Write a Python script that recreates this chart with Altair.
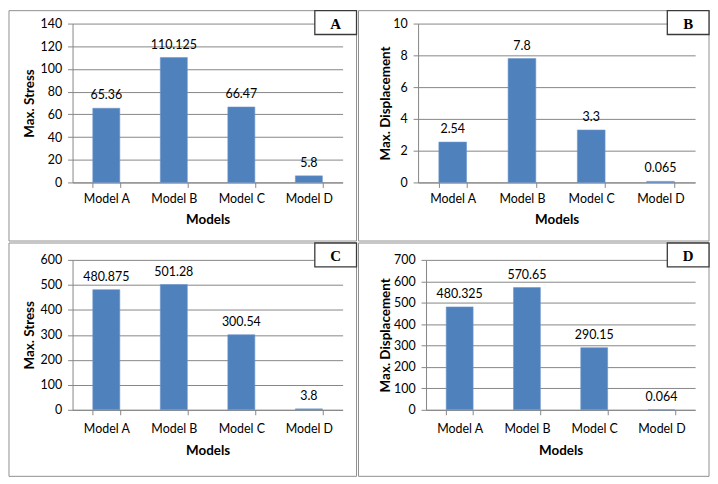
import altair as alt
import pandas as pd

models = ["Model A", "Model B", "Model C", "Model D"]
stress_a = [65.36, 110.125, 66.47, 5.8]
disp_b = [2.54, 7.8, 3.3, 0.065]
stress_c = [480.875, 501.28, 300.54, 3.8]
disp_d = [480.325, 570.65, 290.15, 0.064]
letters = ["A", "B", "C", "D"]
y_titles = ["Max. Stress", "Max. Displacement", "Max. Stress", "Max. Displacement"]
x_title = "Models"
y_max = [140, 10, 600, 700]
y_step = [20, 2, 100, 100]

FONT = "Lato"
FS = 12.5
TFS = 13.5
GRID = "#868686"
BORDER = "#8f8f8f"
BAR = "#4F81BD"


def panel(values, letter, ytitle, ymax, ystep, w, h, left, right, top, bottom,
          title_x, lab_c, title_c):
    df = pd.DataFrame({"Model": models, "Value": values,
                       "Label": [str(v) for v in values]})
    ticks = [int(t) for t in range(0, ymax + 1, ystep)]
    x = alt.X("Model:N", sort=models, title=x_title,
              scale=alt.Scale(paddingInner=0.6, paddingOuter=0.3),
              axis=alt.Axis(labelAngle=0, tickBand="extent", tickSize=5,
                            tickColor=GRID, domainColor=GRID, grid=False,
                            labelFont=FONT, labelFontSize=FS, labelColor="#000",
                            labelBaseline="middle", labelPadding=lab_c - 5,
                            labelOverlap=False,
                            titleFont=FONT, titleFontSize=TFS, titleFontWeight="bold",
                            titleColor="#000", titleBaseline="middle",
                            titleY=title_c, titleX=w / 2, titleAlign="center"))
    y = alt.Y("Value:Q", title=ytitle,
              scale=alt.Scale(domain=[0, ymax], nice=False, zero=True),
              axis=alt.Axis(values=ticks, tickCount=len(ticks), tickSize=5,
                            tickColor=GRID, domainColor=GRID, grid=True,
                            gridColor=GRID, gridWidth=1, gridOpacity=1,
                            labelFont=FONT, labelFontSize=FS, labelColor="#000",
                            labelPadding=6, labelOverlap=False, labelFlush=False,
                            titleFont=FONT, titleFontSize=TFS, titleFontWeight="bold",
                            titleColor="#000", titleBaseline="middle",
                            titleAlign="center", titleX=title_x, titleY=h / 2,
                            titleAngle=270))
    base = alt.Chart(df).encode(x=x, y=y)
    bars = base.mark_bar(color=BAR, stroke="#6d97cc", strokeWidth=0.6)
    texts = base.mark_text(baseline="alphabetic", dy=-9, font=FONT, fontSize=FS,
                           color="#000").encode(text="Label:N")
    one = pd.DataFrame({"letter": [letter]})
    border = alt.Chart(one).mark_rect(fillOpacity=0, stroke=BORDER, strokeWidth=1).encode(
        x=alt.value(-left), x2=alt.value(w + right),
        y=alt.value(-top), y2=alt.value(h + bottom))
    bw, bh = 42, 24
    box = alt.Chart(one).mark_rect(fill="white", stroke="#3a3a3a", strokeWidth=1.3).encode(
        x=alt.value(w + right - bw), x2=alt.value(w + right),
        y=alt.value(-top), y2=alt.value(-top + bh))
    lab = alt.Chart(one).mark_text(font="Liberation Serif", fontWeight="bold",
                                   fontSize=15, color="#000", baseline="middle",
                                   align="center").encode(
        x=alt.value(w + right - bw / 2), y=alt.value(-top + bh / 2 + 1),
        text="letter:N")
    return alt.layer(bars, texts, border, box, lab).properties(width=w, height=h)


pa = panel(stress_a, letters[0], y_titles[0], y_max[0], y_step[0],
           272, 160, 64, 14, 13, 59, -43, 16.5, 37.5)
pb = panel(disp_b, letters[1], y_titles[1], y_max[1], y_step[1],
           279, 160, 60, 14, 13, 59, -33, 16.5, 37.5)
pc = panel(stress_c, letters[2], y_titles[2], y_max[2], y_step[2],
           272, 151, 64, 14, 17, 67, -43, 19, 41)
pd_ = panel(disp_d, letters[3], y_titles[3], y_max[3], y_step[3],
            271, 151, 68, 14, 17, 67, -41, 19, 41)

chart = alt.vconcat(
    alt.hconcat(pa, pb, spacing=0),
    alt.hconcat(pc, pd_, spacing=0),
    spacing=0,
).properties(padding=0).configure_view(strokeWidth=0)

chart.save("out.html", embed_options={"renderer": "svg", "actions": False})
